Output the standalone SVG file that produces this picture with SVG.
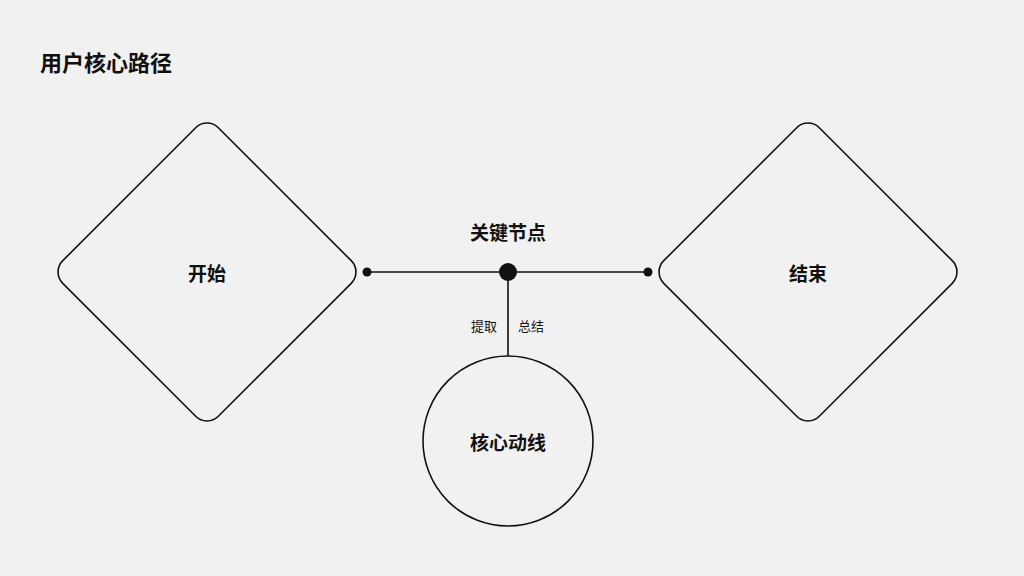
<svg xmlns="http://www.w3.org/2000/svg" width="1024" height="576" viewBox="0 0 1024 576">
<style>
.s{fill:none;stroke:#111;stroke-width:1.6}
.t{font-family:"Noto Sans CJK SC",sans-serif;fill:#111;text-anchor:middle;dominant-baseline:central}
.b{font-weight:bold;font-size:19px}
.sm{font-size:13px}
</style>
<rect width="1024" height="576" fill="#f1f1f1"/>
<text x="40" y="61" class="t b" style="text-anchor:start;font-size:22px">用户核心路径</text>
<g id="start"><rect x="97" y="162" width="220" height="220" rx="16" class="s" transform="rotate(45 207 272)"/><text x="207" y="272" class="t b">开始</text></g>
<g id="end"><rect x="698" y="162" width="220" height="220" rx="16" class="s" transform="rotate(45 808 272)"/><text x="808" y="272" class="t b">结束</text></g>
<g id="core"><circle cx="508" cy="441" r="85" class="s"/><text x="508" y="441" class="t b">核心动线</text></g>
<g id="connectors">
<line x1="367" y1="272" x2="648" y2="272" class="s"/>
<line x1="508" y1="272" x2="508" y2="356" class="s"/>
<circle cx="367" cy="272" r="4.5" fill="#111"/>
<circle cx="648" cy="272" r="4.5" fill="#111"/>
<circle cx="508" cy="272" r="9" fill="#111"/>
</g>
<g id="key"><text x="508" y="231" class="t b">关键节点</text></g>
<text x="484" y="325" class="t sm">提取</text>
<text x="531" y="325" class="t sm">总结</text>
</svg>
